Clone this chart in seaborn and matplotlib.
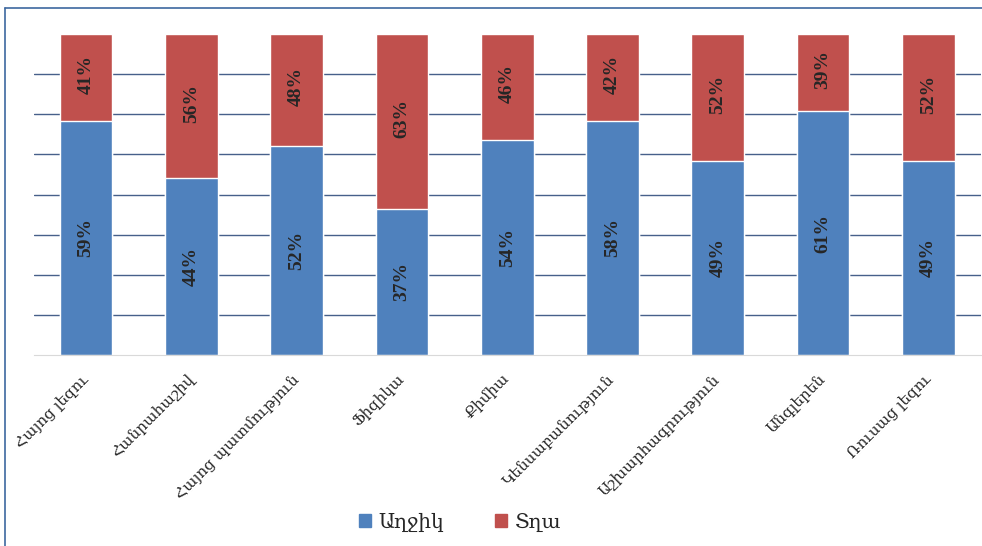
import pandas as pd
import matplotlib.pyplot as plt
import seaborn as sns
from matplotlib.lines import Line2D
from matplotlib.patches import Patch

# subjects and the labelled shares (girls / boys)
subjects = ['Հայոց լեզու', 'Հանրահաշիվ', 'Հայոց պատմություն', 'Ֆիզիկա', 'Քիմիա',
            'Կենսաբանություն', 'Աշխարհագրություն', 'Անգլերեն', 'Ռուսաց լեզու']
girls_label = [59, 44, 52, 37, 54, 58, 49, 61, 49]
boys_label = [41, 56, 48, 63, 46, 42, 52, 39, 52]
# heights of the segments as drawn in the picture (bar = 100)
girls_height = [73, 55, 65, 45.5, 67, 73, 60.5, 76, 60.5]
boys_height = [27, 45, 35, 54.5, 33, 27, 39.5, 24, 39.5]

data = pd.DataFrame({'subject': subjects, 'girls': girls_height, 'boys': boys_height})
data['total'] = data['girls'] + data['boys']

blue = '#4f81bd'
red = '#c0504d'

sns.set_style('white')
fig = plt.figure(figsize=(9.82, 5.46), dpi=100)
ax = fig.add_axes([33.5 / 982, 1 - 355 / 546, 947.5 / 982, 321 / 546])

sns.barplot(x='subject', y='total', data=data, color=red, width=0.5, ax=ax, saturation=1)
sns.barplot(x='subject', y='girls', data=data, color=blue, width=0.5, ax=ax, saturation=1)

ax.set_xlim(-0.5, len(subjects) - 0.5)
ax.set_ylim(0, 100)
ax.set_yticks([])
for y in range(1, 8):
    ax.axhline(y * 12.5, color='#47608a', lw=1, zorder=0)

# segment labels
for i in range(len(subjects)):
    g = girls_height[i]
    b = boys_height[i]
    ax.text(i, g / 2, f'{girls_label[i]}%', rotation=90, ha='center', va='center',
            fontsize=14, fontweight='bold', family=['Liberation Serif'])
    ax.text(i, g + b / 2 + 1, f'{boys_label[i]}%', rotation=90, ha='center', va='center',
            fontsize=14, fontweight='bold', family=['Liberation Serif'])

for s in ['top', 'right', 'left']:
    ax.spines[s].set_visible(False)
ax.spines['bottom'].set_color('#d9d9d9')
ax.set_xlabel('')
ax.set_ylabel('')
ax.set_xticks(range(len(subjects)))
ax.set_xticklabels(subjects, rotation=45, ha='right', va='center', rotation_mode='anchor',
                   fontsize=11, family=['DejaVu Serif'])
ax.tick_params(axis='x', which='major', length=0, pad=16)
ax.set_xticks([i - 0.5 for i in range(len(subjects) + 1)], minor=True)
ax.tick_params(axis='x', which='minor', length=5, color='#d9d9d9', width=1)

# legend at the bottom
handles = [Patch(color=blue, label='Աղջիկ'), Patch(color=red, label='Տղա')]
fig.legend(handles=handles, loc='center', bbox_to_anchor=(460 / 982, 1 - 522 / 546),
           ncol=2, frameon=False, prop={'family': 'DejaVu Serif', 'size': 14.5},
           handlelength=0.6, handleheight=0.6, columnspacing=2.5, handletextpad=0.4)

# chart area border (cut at right and bottom)
fig.add_artist(Line2D([5 / 982, 5 / 982], [0, 1 - 8 / 546], transform=fig.transFigure,
                      color='#3d68a0', lw=1.2))
fig.add_artist(Line2D([5 / 982, 1], [1 - 8 / 546, 1 - 8 / 546], transform=fig.transFigure,
                      color='#3d68a0', lw=1.2))

fig.savefig('out.png', dpi=100)
